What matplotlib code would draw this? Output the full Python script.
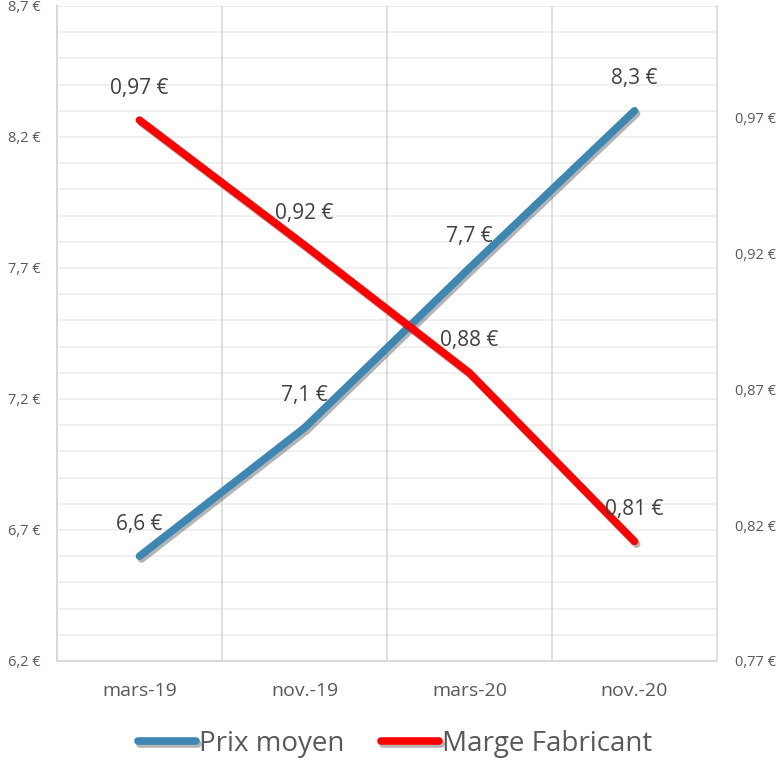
import matplotlib.pyplot as plt
import matplotlib.patheffects as pe
import numpy as np

plt.rcParams['font.family'] = ['Open Sans', 'DejaVu Sans']

# data
categories = ['mars-19', 'nov.-19', 'mars-20', 'nov.-20']
prix_moyen = [6.6, 7.09, 7.7, 8.3]
marge_fabricant = [0.969, 0.923, 0.876, 0.814]

left_ticks = [6.2, 6.7, 7.2, 7.7, 8.2, 8.7]
right_ticks = [0.77, 0.82, 0.87, 0.92, 0.97]

blue = '#3f87b3'
red = '#ff0000'
grey_txt = '#595959'


def euro(v, nd):
    return (f"{v:.{nd}f} €").replace('.', ',')


fig = plt.figure(figsize=(7.82, 7.64), dpi=100)
ax1 = fig.add_axes([57 / 782, 1 - 661 / 764, 660 / 782, 655 / 764])
ax2 = ax1.twinx()

x = np.arange(len(categories))

# gridlines
for v in np.arange(6.2, 8.71, 0.1):
    ax1.axhline(v, color='#efefef', lw=1.3, zorder=0)
for b in np.arange(0.5, len(categories) - 0.5, 1):
    ax1.axvline(b, color='#d9d9d9', lw=1.2, zorder=0)

shadow = [pe.SimpleLineShadow(offset=(1.5, -2), alpha=0.4, shadow_color='#444444'), pe.Normal()]

ax1.plot(x, prix_moyen, color=blue, lw=5.5, solid_capstyle='round',
         path_effects=shadow, label='Prix moyen', zorder=3)
ax2.plot(x, marge_fabricant, color=red, lw=5.5, solid_capstyle='round',
         path_effects=shadow, label='Marge Fabricant', zorder=3)

for xi, v in zip(x, prix_moyen):
    ax1.annotate(euro(v, 1), (xi, v), xytext=(0, 23), textcoords='offset points',
                 ha='center', va='center', fontsize=15, color='#404040', zorder=5)
for xi, v in zip(x, marge_fabricant):
    ax2.annotate(euro(v, 2), (xi, v), xytext=(0, 23), textcoords='offset points',
                 ha='center', va='center', fontsize=15, color='#404040', zorder=5)

ax1.set_xlim(-0.5, len(categories) - 0.5)
ax1.set_ylim(6.2, 8.7)
ax2.set_ylim(0.77, 1.011)

ax1.set_xticks(x)
ax1.set_xticklabels(categories, fontsize=14, color=grey_txt)
ax1.set_yticks(left_ticks)
ax1.set_yticklabels([euro(v, 1) for v in left_ticks], fontsize=10.5, color=grey_txt)
ax2.set_yticks(right_ticks)
ax2.set_yticklabels([euro(v, 2) for v in right_ticks], fontsize=10.5, color=grey_txt)

ax1.tick_params(axis='x', length=0, pad=15)
ax1.tick_params(axis='y', length=0, pad=12)
ax2.tick_params(axis='y', length=0, pad=13)

for ax in (ax1, ax2):
    for s in ax.spines.values():
        s.set_visible(False)
ax1.spines['left'].set_visible(True)
ax1.spines['left'].set_color('#d9d9d9')
ax1.spines['left'].set_linewidth(1.5)
ax1.spines['bottom'].set_visible(True)
ax1.spines['bottom'].set_color('#d9d9d9')
ax1.spines['bottom'].set_linewidth(1.5)
ax1.spines['right'].set_visible(True)
ax1.spines['right'].set_color('#d9d9d9')
ax1.spines['right'].set_linewidth(1.2)

h1, l1 = ax1.get_legend_handles_labels()
h2, l2 = ax2.get_legend_handles_labels()
fig.legend(h1 + h2, l1 + l2, loc='center', bbox_to_anchor=(0.505, 0.026),
           ncol=2, frameon=False, fontsize=20, handlelength=2.1,
           handletextpad=0.1, columnspacing=1.3, labelcolor=grey_txt)

fig.savefig('out.png', dpi=100)
